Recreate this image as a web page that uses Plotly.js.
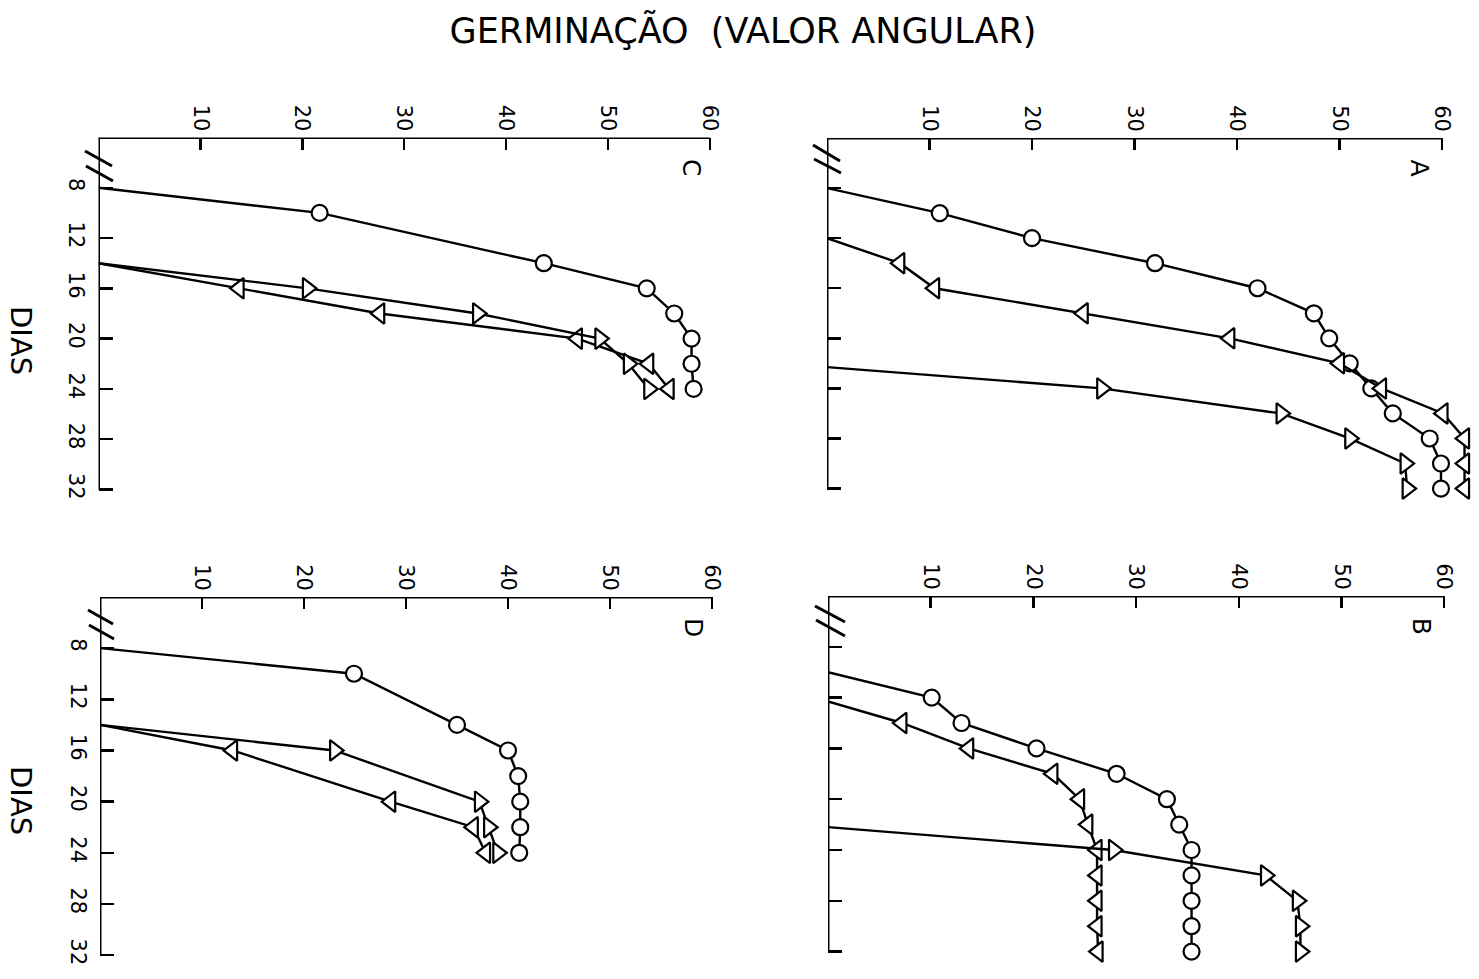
<!DOCTYPE html>
<html><head><meta charset="utf-8">
<script src="https://cdn.plot.ly/plotly-3.0.1.min.js"></script>
<style>html,body{margin:0;padding:0;background:#fff}</style>
</head><body><div id="chart" style="width:1479px;height:979px"></div>
<script>
const W = 1479, H = 979;

// ---- axis ticks ----
const dayTicks = [8, 12, 16, 20, 24, 28, 32];
const dayTickLabels = ["8", "12", "16", "20", "24", "28", "32"];
const valueTicks = [10, 20, 30, 40, 50, 60];
const valueTickLabels = ["10", "20", "30", "40", "50", "60"];
const panelLabels = ["A", "B", "C", "D"];

// ---- Panel A ----
const A_circle_days = [8, 10, 12, 14, 16, 18, 20, 22, 24, 26, 28, 30, 32];
const A_circle_vals = [0, 11, 20, 32, 42, 47.5, 49, 51, 53.1, 55.2, 58.8, 59.9, 59.9];
const A_left_days = [12, 14, 16, 18, 20, 22, 24, 26, 28, 30, 32];
const A_left_vals = [0, 7.1, 10.5, 25, 39.3, 50, 54.1, 60.1, 62.2, 62.2, 62.2];
const A_right_days = [22.3, 24, 26, 28, 30, 32];
const A_right_vals = [0, 26.8, 44.3, 51, 56.4, 56.6];

// ---- Panel B ----
const B_circle_days = [10, 12, 14, 16, 18, 20, 22, 24, 26, 28, 30, 32];
const B_circle_vals = [0, 10.1, 13, 20.3, 28.1, 33, 34.2, 35.4, 35.4, 35.4, 35.4, 35.4];
const B_left_days = [12.3, 14, 16, 18, 20, 22, 24, 26, 28, 30, 32];
const B_left_vals = [0, 7.2, 13.7, 21.9, 24.5, 25.3, 26.2, 26.2, 26.2, 26.2, 26.3];
const B_right_days = [22.2, 24, 26, 28, 30, 32];
const B_right_vals = [0, 27.8, 42.6, 45.7, 46, 46];

// ---- Panel C ----
const C_circle_days = [8, 10, 14, 16, 18, 20, 22, 24];
const C_circle_vals = [0, 21.7, 43.7, 53.8, 56.5, 58.2, 58.2, 58.4];
const C_left_days = [14, 16, 18, 20, 22, 24];
const C_left_vals = [0, 13.8, 27.6, 47, 54, 56];
const C_right_days = [14, 16, 18, 20, 22, 24];
const C_right_vals = [0, 20.5, 37.2, 49.2, 52, 54];

// ---- Panel D ----
const D_circle_days = [8, 10, 14, 16, 18, 20, 22, 24];
const D_circle_vals = [0, 24.9, 35, 40, 41, 41.2, 41.2, 41.1];
const D_left_days = [14, 16, 20, 22, 24];
const D_left_vals = [0, 13, 28.5, 36.6, 37.8];
const D_right_days = [14, 16, 20, 22, 24];
const D_right_vals = [0, 23, 37.2, 38.1, 39];

// ---- geometry (pixels) ----
const XMAX = 63.2, YTOP = 4, YBOT = 33.3;
const geom = {
  A: {x0: 827, ppu: 10.25, top: 138, ppd: 12.52, ax: "", labels: false, lx: 57.8},
  B: {x0: 828, ppu: 10.27, top: 596, ppd: 12.70, ax: "2", labels: false, lx: 57.8},
  C: {x0: 98.5, ppu: 10.19, top: 137.5, ppd: 12.57, ax: "3", labels: true, lx: 58.2},
  D: {x0: 100, ppu: 10.20, top: 597, ppd: 12.79, ax: "4", labels: true, lx: 58.2}
};

const FONT = "DejaVu Sans, Liberation Sans, sans-serif";
const layout = {
  width: W, height: H,
  margin: {l: 0, r: 0, t: 0, b: 0},
  paper_bgcolor: "#fff", plot_bgcolor: "rgba(0,0,0,0)",
  showlegend: false,
  title: {text: "GERMINAÇÃO\u00A0 (VALOR ANGULAR)", x: 743 / W, y: 1 - 31 / H,
          xanchor: "center", yanchor: "middle", xref: "paper", yref: "paper",
          font: {family: FONT, size: 35, color: "#000"}},
  shapes: [], annotations: []
};

function xaxisDef(g, anchor) {
  return {
    domain: [g.x0 / W, Math.min(1, (g.x0 + g.ppu * XMAX) / W)],
    range: [0, XMAX], anchor: anchor, side: "top",
    showline: false, showgrid: false, zeroline: false,
    ticks: "inside", ticklen: 12, tickwidth: 2.5, tickcolor: "#000",
    tickmode: "array", tickvals: valueTicks, ticktext: valueTickLabels,
    tickangle: 90, ticklabelstandoff: 2,
    tickfont: {family: FONT, size: 21, color: "#000"}, fixedrange: true
  };
}
function yaxisDef(g, anchor) {
  const bottom = g.top + g.ppd * (YBOT - YTOP);
  return {
    domain: [1 - bottom / H, 1 - g.top / H],
    range: [YBOT, YTOP], anchor: anchor, side: "left",
    showline: false, showgrid: false, zeroline: false,
    ticks: "inside", ticklen: 14, tickwidth: 2.5, tickcolor: "#000",
    tickmode: "array", tickvals: dayTicks, ticktext: dayTickLabels,
    tickangle: 90, showticklabels: g.labels, ticklabelstandoff: 7,
    tickfont: {family: FONT, size: 21, color: "#000"}, fixedrange: true
  };
}

const keys = ["A", "B", "C", "D"];
keys.forEach((k, i) => {
  const g = geom[k];
  const xa = "x" + g.ax, ya = "y" + g.ax;
  layout["xaxis" + g.ax] = xaxisDef(g, ya);
  layout["yaxis" + g.ax] = yaxisDef(g, xa);
  layout.shapes.push({type: "line", xref: xa, yref: ya, x0: 0, x1: 60, y0: YTOP, y1: YTOP,
                      line: {color: "#000", width: 3}});
  layout.shapes.push({type: "line", xref: xa, yref: ya, x0: 0, x1: 0, y0: YTOP, y1: 32,
                      line: {color: "#000", width: 3}});
  layout.annotations.push({text: panelLabels[i], xref: xa, yref: ya,
    x: g.lx, y: 6.4, showarrow: false, textangle: 90,
    font: {family: FONT, size: 25, color: "#000"}});
});

// axis break marks "//" (pixel positions)
const breaks = [
  [[813, 145, 840, 161], [814, 159, 841, 173]],
  [[815, 606, 845, 622], [816, 620, 845, 636]],
  [[85, 151, 112, 166], [86, 166, 113, 181]],
  [[88, 610, 113, 624], [89, 625, 114, 639]]
];
breaks.forEach(pair => pair.forEach(s => {
  layout.shapes.push({type: "line", xref: "paper", yref: "paper",
    x0: s[0] / W, y0: 1 - s[1] / H, x1: s[2] / W, y1: 1 - s[3] / H,
    line: {color: "#000", width: 3}});
}));

// DIAS labels
[340, 800].forEach(py => layout.annotations.push({
  text: "DIAS", xref: "paper", yref: "paper", x: 21 / W, y: 1 - py / H,
  showarrow: false, textangle: 90, xanchor: "center", yanchor: "middle",
  borderpad: 0, font: {family: FONT, size: 29, color: "#000"}}));

const series = {
  A: [[A_circle_days, A_circle_vals, "circle"], [A_left_days, A_left_vals, "triangle-left"], [A_right_days, A_right_vals, "triangle-right"]],
  B: [[B_circle_days, B_circle_vals, "circle"], [B_left_days, B_left_vals, "triangle-left"], [B_right_days, B_right_vals, "triangle-right"]],
  C: [[C_circle_days, C_circle_vals, "circle"], [C_left_days, C_left_vals, "triangle-left"], [C_right_days, C_right_vals, "triangle-right"]],
  D: [[D_circle_days, D_circle_vals, "circle"], [D_left_days, D_left_vals, "triangle-left"], [D_right_days, D_right_vals, "triangle-right"]]
};

const traces = [];
keys.forEach(k => {
  const g = geom[k];
  series[k].forEach(([days, vals, sym]) => {
    const sz = sym === "circle" ? 16 : 18;
    traces.push({
      type: "scatter", mode: "lines+markers",
      x: vals, y: days, xaxis: "x" + g.ax, yaxis: "y" + g.ax,
      line: {color: "#000", width: 2.4},
      marker: {symbol: sym, color: "#ffffff", opacity: 1, size: days.map((d, i) => i === 0 ? 0 : sz),
               line: {color: "#000", width: 2.2}},
      cliponaxis: false, hoverinfo: "skip"
    });
  });
});

Plotly.newPlot("chart", traces, layout, {staticPlot: true, displayModeBar: false});
</script></body></html>
